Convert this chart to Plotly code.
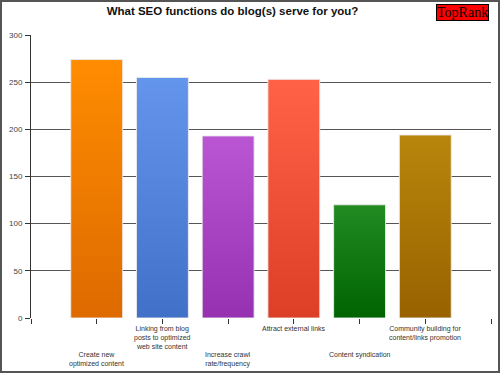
import plotly.graph_objects as go

categories = [
    "Create new<br>optimized content",
    "Linking from blog<br>posts to optimized<br>web site content",
    "Increase crawl<br>rate/frequency",
    "Attract external links",
    "Content syndication",
    "Community building for<br>content/links promotion",
]
values = [274, 255, 193, 253, 120, 194]
top_colors = ["#FF8C00", "#6495ED", "#BA55D3", "#FF6347", "#228B22", "#B8860B"]
bottom_colors = ["#DE6A00", "#4170C8", "#9632B2", "#DC3E26", "#006400", "#986200"]
y_ticks = [0, 50, 100, 150, 200, 250, 300]

BAR_W = 0.79
fig = go.Figure()
for i, (v, tc, bc) in enumerate(zip(values, top_colors, bottom_colors)):
    xc = i + 1
    fig.add_trace(go.Scatter(
        x=[xc - BAR_W / 2, xc - BAR_W / 2, xc + BAR_W / 2, xc + BAR_W / 2, xc - BAR_W / 2],
        y=[0, v, v, 0, 0],
        mode="lines",
        fill="toself",
        fillgradient=dict(type="vertical", colorscale=[[0, bc], [1, tc]], start=0, stop=v),
        line=dict(color="rgba(235,235,235,0.9)", width=1),
        hoverinfo="skip",
        showlegend=False,
        name=categories[i].replace("<br>", " "),
    ))

# category labels, staggered
for i, lab in enumerate(categories):
    fig.add_annotation(
        x=i + 1, xref="x", y=-0.016 if i % 2 == 1 else -0.108, yref="paper",
        text=lab, showarrow=False, yanchor="top", xanchor="center",
        font=dict(family="Liberation Sans, Arial", size=7, color="#333333"),
        align="center",
    )

# TopRank badge
fig.add_annotation(
    x=0.996, xref="paper", y=1.078, yref="paper", xanchor="right", yanchor="middle",
    text="TopRank", showarrow=False,
    font=dict(family="Liberation Serif, Times New Roman", size=14, color="#000000"),
    bgcolor="#FF0000", bordercolor="#000000", borderwidth=1, borderpad=0,
)

# outer frame
fig.add_shape(type="rect", xref="paper", yref="paper",
              x0=-30 / 460, x1=468 / 460, y0=-54 / 283, y1=1 + 34 / 283,
              line=dict(color="#555555", width=2), fillcolor="rgba(0,0,0,0)", layer="above")

fig.update_layout(
    width=500, height=373,
    margin=dict(l=31, r=9, t=35, b=55),
    paper_bgcolor="white", plot_bgcolor="white",
    title=dict(text="<b>What SEO functions do blog(s) serve for you?</b>",
               x=0.465, xanchor="center", y=0.97, yanchor="middle",
               font=dict(family="Liberation Sans, Arial", size=11.5, color="#111111")),
    xaxis=dict(range=[0, 7], tickvals=list(range(8)), showticklabels=False,
               ticks="outside", ticklen=5, tickcolor="#333333",
               showgrid=False, zeroline=False, showline=False, fixedrange=True),
    yaxis=dict(range=[0, 300], tickvals=y_ticks, ticks="outside", ticklen=5,
               tickcolor="#333333", showgrid=True, gridcolor="#555555", gridwidth=1,
               showline=True, linecolor="#333333", linewidth=1, zeroline=False,
               tickfont=dict(family="Liberation Sans, Arial", size=8, color="#444444"),
               ticklabelstandoff=1, fixedrange=True),
)

fig.write_html("out.html", config={"displayModeBar": False},
               post_script="document.body.style.margin='0';")
